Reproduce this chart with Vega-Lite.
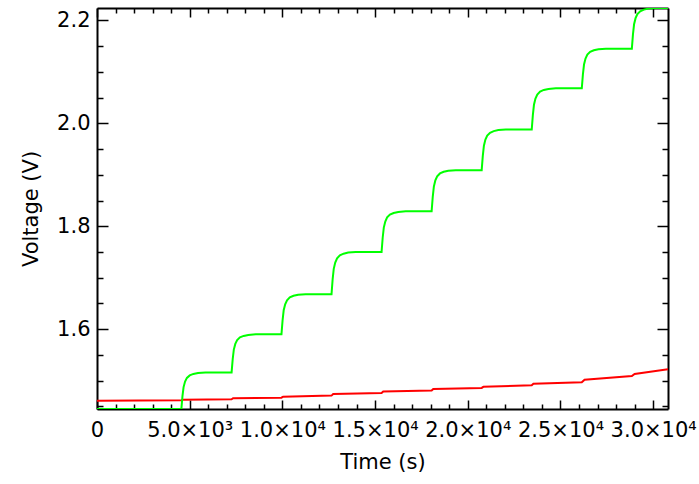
{
  "$schema": "https://vega.github.io/schema/vega-lite/v6.json",
  "width": 571,
  "height": 401,
  "autosize": "none",
  "padding": {"left": 97, "top": 8, "right": 31, "bottom": 75},
  "background": "white",
  "config": {
    "view": {"stroke": null},
    "axis": {
      "grid": false,
      "domainColor": "black",
      "tickColor": "black",
      "labelColor": "black",
      "titleColor": "black",
      "labelFont": "DejaVu Sans",
      "titleFont": "DejaVu Sans",
      "titleFontWeight": "normal",
      "domainWidth": 2,
      "tickWidth": 1.5
    }
  },
  "data": {
    "values": [
      {"s": "red", "t": 0, "v": 1.461},
      {"s": "red", "t": 4550, "v": 1.462},
      {"s": "red", "t": 4620, "v": 1.463},
      {"s": "red", "t": 7260, "v": 1.464},
      {"s": "red", "t": 7340, "v": 1.466},
      {"s": "red", "t": 9950, "v": 1.467},
      {"s": "red", "t": 10040, "v": 1.469},
      {"s": "red", "t": 12650, "v": 1.471},
      {"s": "red", "t": 12740, "v": 1.474},
      {"s": "red", "t": 15350, "v": 1.476},
      {"s": "red", "t": 15440, "v": 1.479},
      {"s": "red", "t": 18050, "v": 1.481},
      {"s": "red", "t": 18140, "v": 1.484},
      {"s": "red", "t": 20750, "v": 1.486},
      {"s": "red", "t": 20840, "v": 1.488},
      {"s": "red", "t": 23450, "v": 1.491},
      {"s": "red", "t": 23540, "v": 1.494},
      {"s": "red", "t": 26150, "v": 1.497},
      {"s": "red", "t": 26300, "v": 1.502},
      {"s": "red", "t": 28850, "v": 1.509},
      {"s": "red", "t": 29000, "v": 1.513},
      {"s": "red", "t": 30800, "v": 1.522},

      {"s": "green", "t": 0, "v": 1.445},
      {"s": "green", "t": 4550, "v": 1.445},
      {"s": "green", "t": 4610, "v": 1.4699},
      {"s": "green", "t": 4670, "v": 1.4876},
      {"s": "green", "t": 4750, "v": 1.4983},
      {"s": "green", "t": 4850, "v": 1.5054},
      {"s": "green", "t": 5000, "v": 1.5103},
      {"s": "green", "t": 5200, "v": 1.5132},
      {"s": "green", "t": 5450, "v": 1.5149},
      {"s": "green", "t": 5850, "v": 1.516},
      {"s": "green", "t": 7260, "v": 1.516},
      {"s": "green", "t": 7320, "v": 1.5419},
      {"s": "green", "t": 7380, "v": 1.5604},
      {"s": "green", "t": 7460, "v": 1.5715},
      {"s": "green", "t": 7560, "v": 1.5789},
      {"s": "green", "t": 7710, "v": 1.5841},
      {"s": "green", "t": 7910, "v": 1.587},
      {"s": "green", "t": 8160, "v": 1.5889},
      {"s": "green", "t": 8560, "v": 1.59},
      {"s": "green", "t": 9950, "v": 1.59},
      {"s": "green", "t": 10010, "v": 1.6173},
      {"s": "green", "t": 10070, "v": 1.6368},
      {"s": "green", "t": 10150, "v": 1.6485},
      {"s": "green", "t": 10250, "v": 1.6563},
      {"s": "green", "t": 10400, "v": 1.6618},
      {"s": "green", "t": 10600, "v": 1.6649},
      {"s": "green", "t": 10850, "v": 1.6668},
      {"s": "green", "t": 11250, "v": 1.668},
      {"s": "green", "t": 12650, "v": 1.668},
      {"s": "green", "t": 12710, "v": 1.6967},
      {"s": "green", "t": 12770, "v": 1.7172},
      {"s": "green", "t": 12850, "v": 1.7295},
      {"s": "green", "t": 12950, "v": 1.7377},
      {"s": "green", "t": 13100, "v": 1.7434},
      {"s": "green", "t": 13300, "v": 1.7467},
      {"s": "green", "t": 13550, "v": 1.7488},
      {"s": "green", "t": 13950, "v": 1.75},
      {"s": "green", "t": 15350, "v": 1.75},
      {"s": "green", "t": 15410, "v": 1.7777},
      {"s": "green", "t": 15470, "v": 1.7974},
      {"s": "green", "t": 15550, "v": 1.8093},
      {"s": "green", "t": 15650, "v": 1.8172},
      {"s": "green", "t": 15800, "v": 1.8227},
      {"s": "green", "t": 16000, "v": 1.8258},
      {"s": "green", "t": 16250, "v": 1.8278},
      {"s": "green", "t": 16650, "v": 1.829},
      {"s": "green", "t": 18050, "v": 1.829},
      {"s": "green", "t": 18110, "v": 1.857},
      {"s": "green", "t": 18170, "v": 1.877},
      {"s": "green", "t": 18250, "v": 1.889},
      {"s": "green", "t": 18350, "v": 1.897},
      {"s": "green", "t": 18500, "v": 1.9026},
      {"s": "green", "t": 18700, "v": 1.9058},
      {"s": "green", "t": 18950, "v": 1.9078},
      {"s": "green", "t": 19350, "v": 1.909},
      {"s": "green", "t": 20750, "v": 1.909},
      {"s": "green", "t": 20810, "v": 1.9367},
      {"s": "green", "t": 20870, "v": 1.9564},
      {"s": "green", "t": 20950, "v": 1.9683},
      {"s": "green", "t": 21050, "v": 1.9762},
      {"s": "green", "t": 21200, "v": 1.9817},
      {"s": "green", "t": 21400, "v": 1.9848},
      {"s": "green", "t": 21650, "v": 1.9868},
      {"s": "green", "t": 22050, "v": 1.988},
      {"s": "green", "t": 23450, "v": 1.988},
      {"s": "green", "t": 23510, "v": 2.016},
      {"s": "green", "t": 23570, "v": 2.036},
      {"s": "green", "t": 23650, "v": 2.048},
      {"s": "green", "t": 23750, "v": 2.056},
      {"s": "green", "t": 23900, "v": 2.0616},
      {"s": "green", "t": 24100, "v": 2.0648},
      {"s": "green", "t": 24350, "v": 2.0668},
      {"s": "green", "t": 24750, "v": 2.068},
      {"s": "green", "t": 26150, "v": 2.068},
      {"s": "green", "t": 26210, "v": 2.095},
      {"s": "green", "t": 26270, "v": 2.1142},
      {"s": "green", "t": 26350, "v": 2.1258},
      {"s": "green", "t": 26450, "v": 2.1335},
      {"s": "green", "t": 26600, "v": 2.1388},
      {"s": "green", "t": 26800, "v": 2.1419},
      {"s": "green", "t": 27050, "v": 2.1439},
      {"s": "green", "t": 27450, "v": 2.145},
      {"s": "green", "t": 28850, "v": 2.145},
      {"s": "green", "t": 28910, "v": 2.1727},
      {"s": "green", "t": 28970, "v": 2.1924},
      {"s": "green", "t": 29050, "v": 2.2043},
      {"s": "green", "t": 29150, "v": 2.2122},
      {"s": "green", "t": 29300, "v": 2.2177},
      {"s": "green", "t": 29500, "v": 2.2208},
      {"s": "green", "t": 29750, "v": 2.2228},
      {"s": "green", "t": 30150, "v": 2.224},
      {"s": "green", "t": 30800, "v": 2.224}
    ]
  },
  "resolve": {"axis": {"x": "independent", "y": "independent"}},
  "layer": [
    {
      "transform": [{"filter": "datum.s == 'red'"}],
      "mark": {"type": "line", "color": "#ff0000", "strokeWidth": 2, "clip": true},
      "encoding": {
        "x": {"field": "t", "type": "quantitative",
          "scale": {"domain": [0, 30800], "nice": false, "zero": false},
          "axis": {"orient": "top", "values": [0, 5000, 10000, 15000, 20000, 25000, 30000], "tickSize": -9, "labels": false, "title": null}},
        "y": {"field": "v", "type": "quantitative",
          "scale": {"domain": [1.445, 2.224], "nice": false, "zero": false},
          "axis": {"orient": "right", "values": [1.6, 1.8, 2.0, 2.2], "tickSize": -11, "labels": false, "title": null}}
      }
    },
    {
      "transform": [{"filter": "datum.s == 'green'"}],
      "mark": {"type": "line", "color": "#00ff00", "strokeWidth": 2, "clip": true},
      "encoding": {
        "x": {"field": "t", "type": "quantitative",
          "scale": {"domain": [0, 30800], "nice": false, "zero": false},
          "axis": {"orient": "bottom", "values": [0, 5000, 10000, 15000, 20000, 25000, 30000], "tickSize": -9,
            "labelExpr": "datum.value == 0 ? '0' : datum.value == 5000 ? '5.0×10³' : datum.value == 10000 ? '1.0×10⁴' : datum.value == 15000 ? '1.5×10⁴' : datum.value == 20000 ? '2.0×10⁴' : datum.value == 25000 ? '2.5×10⁴' : '3.0×10⁴'",
            "labelFontSize": 21, "labelPadding": 19, "labelFlush": false, "labelOverlap": false,
            "title": "Time (s)", "titleFontSize": 21, "titlePadding": 11}},
        "y": {"field": "v", "type": "quantitative",
          "scale": {"domain": [1.445, 2.224], "nice": false, "zero": false},
          "axis": {"orient": "left", "values": [1.6, 1.8, 2.0, 2.2], "format": ".1f", "tickSize": -11,
            "labelFontSize": 21, "labelPadding": 18, "labelOverlap": false,
            "title": "Voltage (V)", "titleFontSize": 21, "titlePadding": 15}}
      }
    },
    {
      "mark": {"type": "line", "opacity": 0},
      "encoding": {
        "detail": {"field": "s"},
        "x": {"field": "t", "type": "quantitative",
          "scale": {"domain": [0, 30800], "nice": false, "zero": false},
          "axis": {"orient": "bottom", "values": [1000, 2000, 3000, 4000, 6000, 7000, 8000, 9000, 11000, 12000, 13000, 14000, 16000, 17000, 18000, 19000, 21000, 22000, 23000, 24000, 26000, 27000, 28000, 29000], "tickSize": -5, "labels": false, "domain": false, "title": null}},
        "y": {"field": "v", "type": "quantitative",
          "scale": {"domain": [1.445, 2.224], "nice": false, "zero": false},
          "axis": {"orient": "left", "values": [1.45, 1.5, 1.55, 1.65, 1.7, 1.75, 1.85, 1.9, 1.95, 2.05, 2.1, 2.15], "tickSize": -6, "labels": false, "domain": false, "title": null}}
      }
    },
    {
      "mark": {"type": "line", "opacity": 0},
      "encoding": {
        "detail": {"field": "s"},
        "x": {"field": "t", "type": "quantitative",
          "scale": {"domain": [0, 30800], "nice": false, "zero": false},
          "axis": {"orient": "top", "values": [1000, 2000, 3000, 4000, 6000, 7000, 8000, 9000, 11000, 12000, 13000, 14000, 16000, 17000, 18000, 19000, 21000, 22000, 23000, 24000, 26000, 27000, 28000, 29000], "tickSize": -5, "labels": false, "domain": false, "title": null}},
        "y": {"field": "v", "type": "quantitative",
          "scale": {"domain": [1.445, 2.224], "nice": false, "zero": false},
          "axis": {"orient": "right", "values": [1.45, 1.5, 1.55, 1.65, 1.7, 1.75, 1.85, 1.9, 1.95, 2.05, 2.1, 2.15], "tickSize": -6, "labels": false, "domain": false, "title": null}}
      }
    }
  ]
}
